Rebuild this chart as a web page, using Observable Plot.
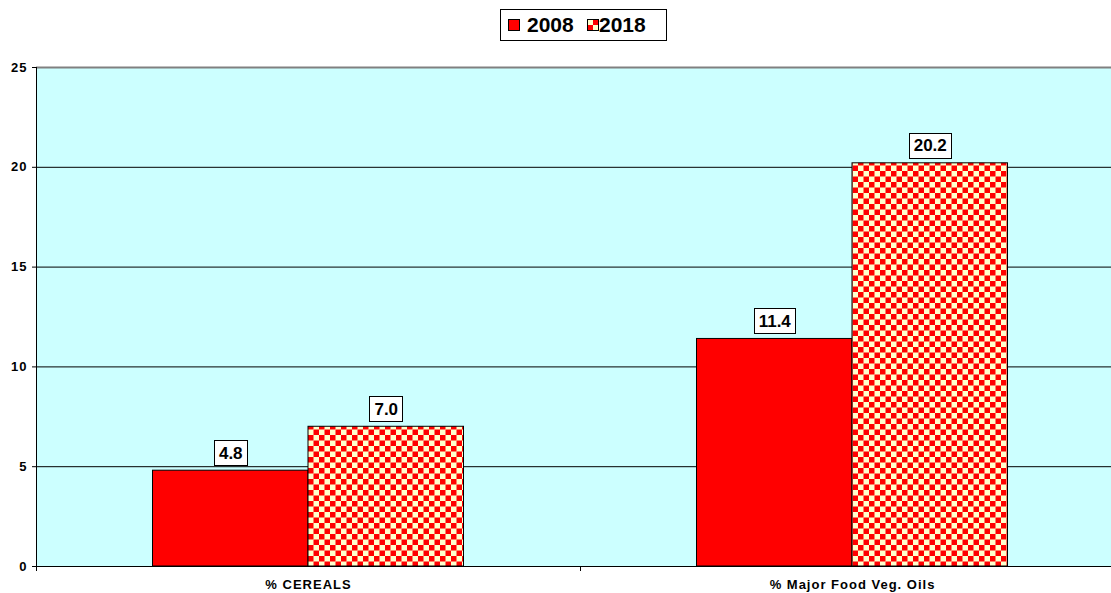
<!DOCTYPE html>
<html><head><meta charset="utf-8">
<script src="https://cdn.jsdelivr.net/npm/d3@7"></script>
<script src="https://cdn.jsdelivr.net/npm/@observablehq/plot@0.6"></script>
<style>
body{margin:0;background:#fff;font-family:"Liberation Sans",Arial,sans-serif;}
#legend{position:relative;height:50px;}
.lbox{position:absolute;left:500px;top:9px;width:167px;height:32px;box-sizing:border-box;border:1px solid #000;font-weight:bold;font-size:21px;color:#000;}
.sw{position:absolute;top:9px;width:12px;height:12px;border:1px solid #000;box-sizing:border-box;}
.lt{position:absolute;top:3px;line-height:24px;}
#chart svg text{font-weight:bold;}
</style></head><body>
<div id="legend"></div><div id="chart"></div>
<script>
const categories = ["% CEREALS", "% Major Food Veg. Oils"];
const years = ["2008", "2018"];
const values2008 = [4.8, 11.4];
const values2018 = [7.0, 20.2];
const yTicks = [0, 5, 10, 15, 20, 25];
const yearColors = ["#FF0000", "url(#checker)"];

const rows = categories.flatMap((c, i) => [
  {category: c, year: years[0], value: values2008[i]},
  {category: c, year: years[1], value: values2018[i]}
]);
const rows2008 = rows.filter(d => d.year === years[0]);
const rows2018 = rows.filter(d => d.year === years[1]);

// legend
const legend = d3.select("#legend").append("div").attr("class", "lbox");
const swLeft = [7, 86], txtLeft = [26, 98];
years.forEach((y, i) => {
  const sw = legend.append("span").attr("class", "sw").style("left", swLeft[i] + "px");
  if (i === 0) sw.style("background", "#FF0000");
  else sw.style("background", "repeating-conic-gradient(#FF0000 0 25%, #FFFFCC 0 50%) 0 0/10px 10px");
  legend.append("span").attr("class", "lt").style("left", txtLeft[i] + "px").text(y);
});

const W = 1111, H = 543, ML = 36, MT = 17, MB = 27;
const BAND = 544, BAR = 155.5, OUTER = (BAND - 2 * BAR) / 2;
const LABEL_DY = -17.5, LABEL_FONT = 17;

const ctx = document.createElement("canvas").getContext("2d");
ctx.font = `bold ${LABEL_FONT}px 'Liberation Sans', Arial, sans-serif`;

const axisLines = (index, scales, values, dims) => {
  const g = d3.create("svg:g");
  const y0 = scales.y(0), y1 = scales.y(25);
  g.append("line").attr("x1", dims.marginLeft + 0.5).attr("x2", dims.marginLeft + 0.5)
    .attr("y1", y1).attr("y2", y0).attr("stroke", "#000");
  categories.forEach(c => {
    const xx = Math.round(scales.x(c)) + 0.5;
    g.append("line").attr("x1", xx).attr("x2", xx).attr("y1", y0).attr("y2", y0 + 5).attr("stroke", "#000");
  });
  return g.node();
};

const labelBoxes = (index, scales) => {
  const g = d3.create("svg:g").attr("aria-label", "label boxes");
  rows.forEach(r => {
    const cx = scales.x(r.category) + BAND / 2 + (r.year === years[0] ? -BAR / 2 : BAR / 2);
    const cy = scales.y(r.value) + LABEL_DY;
    const w = Math.round(ctx.measureText(r.value.toFixed(1)).width + 9);
    g.append("rect")
      .attr("x", Math.round(cx - w / 2) + 0.5).attr("y", Math.round(cy - 12.5) + 0.5)
      .attr("width", w).attr("height", 25)
      .attr("fill", "#fff").attr("stroke", "#000").attr("stroke-width", 1);
  });
  return g.node();
};

const chart = Plot.plot({
  width: W, height: H,
  marginLeft: ML, marginRight: 0, marginTop: MT, marginBottom: MB,
  style: {fontFamily: "'Liberation Sans', Arial, sans-serif", fontSize: "13px", color: "#000", background: "#fff"},
  x: {domain: categories, range: [ML, ML + 2 * BAND], padding: 0},
  y: {domain: [0, 25]},
  color: {domain: years, range: yearColors},
  marks: [
    Plot.frame({fill: "#CCFFFF", stroke: "none"}),
    Plot.ruleY(yTicks.filter(t => t > 0 && t < 25), {stroke: "#000", strokeWidth: 1}),
    Plot.ruleY([25], {stroke: "#808080", strokeWidth: 2}),
    Plot.barY(rows2008, {x: "category", y: "value", fill: "year", stroke: "#000", strokeWidth: 1,
      insetLeft: OUTER, insetRight: OUTER + BAR}),
    Plot.barY(rows2018, {x: "category", y: "value", fill: "year", stroke: "#000", strokeWidth: 1,
      insetLeft: OUTER + BAR, insetRight: OUTER}),
    Plot.ruleY([0], {stroke: "#000", strokeWidth: 1}),
    axisLines,
    Plot.axisY({ticks: yTicks, tickSize: 4, tickPadding: 5, label: null, fontSize: 13}),
    Plot.axisX({tickSize: 0, tickPadding: 13, label: null, fontSize: 13}),
    labelBoxes,
    Plot.text(rows2008, {x: "category", y: "value", text: d => d.value.toFixed(1), dx: -BAR / 2, dy: LABEL_DY,
      lineAnchor: "middle", fontSize: LABEL_FONT, fill: "#000"}),
    Plot.text(rows2018, {x: "category", y: "value", text: d => d.value.toFixed(1), dx: BAR / 2, dy: LABEL_DY,
      lineAnchor: "middle", fontSize: LABEL_FONT, fill: "#000"})
  ]
});

document.getElementById("chart").appendChild(chart);

const svg = d3.select(chart);
const defs = svg.insert("defs", ":first-child");
const pat = defs.append("pattern").attr("id", "checker").attr("patternUnits", "userSpaceOnUse")
  .attr("width", 11).attr("height", 11);
pat.append("rect").attr("width", 11).attr("height", 11).attr("fill", "#FFFFCC");
pat.append("rect").attr("width", 5.5).attr("height", 5.5).attr("fill", "#FF0000");
pat.append("rect").attr("x", 5.5).attr("y", 5.5).attr("width", 5.5).attr("height", 5.5).attr("fill", "#FF0000");

svg.selectAll('g[aria-label="x-axis tick label"] text, g[aria-label="y-axis tick label"] text')
  .attr("letter-spacing", "1px");
</script>
</body></html>
